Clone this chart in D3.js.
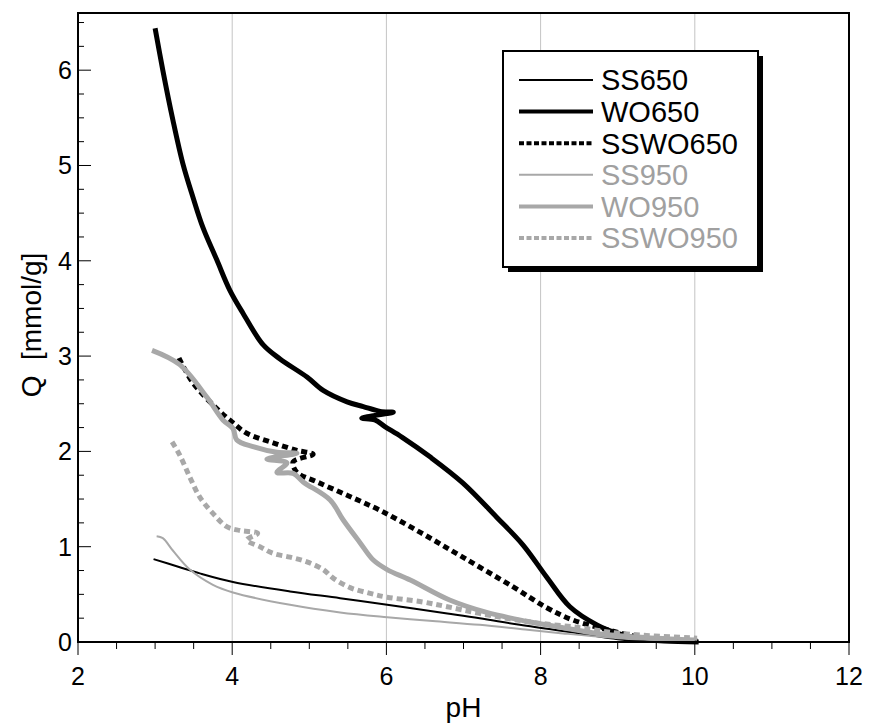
<!DOCTYPE html>
<html>
<head>
<meta charset="utf-8">
<script src="https://cdn.jsdelivr.net/npm/d3@7"></script>
<style>
  body { margin: 0; background: #fff; }
  text { font-family: "Liberation Sans", Arial, sans-serif; }
</style>
</head>
<body>
<div id="chart"></div>
<script>
// data: [pH, Q mmol/g]
const ss650 = [[2.98,0.87],[3.3,0.79],[3.58,0.72],[4.01,0.63],[4.75,0.53],[5.4,0.46],[6.01,0.39],[6.79,0.30],[7.21,0.25],[7.73,0.18],[8.5,0.09],[9.0,0.03],[9.3,0.01],[10.05,0.0]]
const wo650 = [[3.0,6.44],[3.1,6.0],[3.23,5.48],[3.36,5.02],[3.49,4.67],[3.62,4.35],[3.8,4.01],[3.97,3.69],[4.14,3.45],[4.4,3.12],[4.62,2.97],[4.97,2.78],[5.18,2.64],[5.49,2.52],[5.7,2.47],[5.92,2.42],[6.09,2.41],[5.68,2.35],[5.85,2.33],[5.98,2.26],[6.2,2.15],[6.57,1.94],[6.99,1.67],[7.43,1.31],[7.77,1.02],[8.08,0.68],[8.38,0.37],[8.73,0.18],[9.0,0.09],[9.3,0.03],[9.6,0.01],[10.05,0.0]]
const sswo650 = [[3.31,2.98],[3.49,2.72],[3.8,2.45],[4.01,2.3],[4.19,2.19],[4.53,2.09],[4.84,2.01],[5.05,1.97],[4.79,1.89],[4.84,1.78],[5.1,1.68],[5.49,1.54],[5.92,1.38],[6.44,1.15],[6.99,0.89],[7.64,0.58],[8.08,0.36],[8.42,0.23],[8.86,0.13],[9.29,0.05],[9.7,0.02],[10.05,0.01]]
const ss950 = [[3.02,1.11],[3.1,1.09],[3.23,0.96],[3.45,0.76],[3.75,0.6],[4.01,0.52],[4.75,0.39],[5.4,0.31],[6.01,0.26],[6.6,0.22],[7.21,0.18],[7.8,0.13],[8.29,0.09],[9.0,0.04],[9.5,0.02],[10.0,0.0]]
const wo950 = [[2.96,3.06],[3.32,2.91],[3.67,2.57],[3.88,2.33],[4.01,2.24],[4.06,2.12],[4.27,2.05],[4.58,1.99],[4.84,1.98],[4.45,1.92],[4.71,1.88],[4.58,1.78],[4.79,1.77],[4.92,1.68],[5.27,1.49],[5.44,1.28],[5.66,1.04],[5.83,0.86],[6.01,0.76],[6.31,0.65],[6.82,0.44],[7.3,0.31],[7.8,0.22],[8.29,0.15],[8.73,0.09],[9.3,0.05],[10.0,0.02]]
const sswo950 = [[3.22,2.1],[3.32,1.96],[3.45,1.73],[3.58,1.52],[3.75,1.35],[3.93,1.21],[4.1,1.17],[4.33,1.14],[4.19,1.07],[4.36,1.0],[4.53,0.93],[4.75,0.89],[4.97,0.84],[5.18,0.76],[5.31,0.67],[5.53,0.57],[5.79,0.51],[6.01,0.47],[6.47,0.42],[6.79,0.37],[7.21,0.3],[7.86,0.21],[8.51,0.15],[9.03,0.09],[10.03,0.04]]

const names = ['SS650', 'WO650', 'SSWO650', 'SS950', 'WO950', 'SSWO950']
const xTicks = [2, 4, 6, 8, 10, 12]
const yTicks = [0, 1, 2, 3, 4, 5, 6]
const gridX = [4, 6, 8, 10]

const black = '#000', grey = '#a8a8a8'
const series = [
    { name: names[0], data: ss650, color: black, width: 2, dash: null },
    { name: names[1], data: wo650, color: black, width: 5, dash: null },
    { name: names[2], data: sswo650, color: black, width: 5, dash: '6,4' },
    { name: names[3], data: ss950, color: grey, width: 2, dash: null },
    { name: names[4], data: wo950, color: grey, width: 5, dash: null },
    { name: names[5], data: sswo950, color: grey, width: 5, dash: '6,4' }
]

const width = 870, height = 725
const m = { left: 78, right: 21, top: 13, bottom: 83 }
const svg = d3.select('#chart').append('svg')
    .attr('width', width).attr('height', height)

const x = d3.scaleLinear().domain([2, 12]).range([m.left, width - m.right])
const y = d3.scaleLinear().domain([0, 6.6]).range([height - m.bottom, m.top])

// vertical grid
svg.append('g').selectAll('line').data(gridX).enter().append('line')
    .attr('x1', d => x(d)).attr('x2', d => x(d))
    .attr('y1', y.range()[1]).attr('y2', y.range()[0])
    .attr('stroke', '#c4c4c4').attr('stroke-width', 1)

// curves
const line = d3.line()
    .x(d => x(d[0])).y(d => y(d[1]))
    .curve(d3.curveCatmullRom.alpha(0.5))

svg.append('g').selectAll('path').data(series).enter().append('path')
    .attr('d', d => line(d.data))
    .attr('fill', 'none')
    .attr('stroke', d => d.color)
    .attr('stroke-width', d => d.width)
    .attr('stroke-dasharray', d => d.dash)
    .attr('stroke-linejoin', 'round')

// frame
svg.append('rect')
    .attr('x', x(2)).attr('y', y(6.6))
    .attr('width', x(12) - x(2)).attr('height', y(0) - y(6.6))
    .attr('fill', 'none').attr('stroke', '#000').attr('stroke-width', 2)

// x axis: ticks point down
const xAxis = svg.append('g').attr('transform', 'translate(0,' + y(0) + ')')
xAxis.selectAll('.minor').data(d3.range(2, 12.01, 0.5)).enter().append('line')
    .attr('x1', d => x(d)).attr('x2', d => x(d))
    .attr('y1', 0).attr('y2', d => d % 2 == 0 ? 13 : 7)
    .attr('stroke', '#000').attr('stroke-width', 1)
xAxis.selectAll('text').data(xTicks).enter().append('text')
    .attr('x', d => x(d)).attr('y', 43)
    .attr('text-anchor', 'middle')
    .style('font-size', '25px')
    .text(d => d)

// y axis: ticks point inward
const yAxis = svg.append('g').attr('transform', 'translate(' + x(2) + ',0)')
yAxis.selectAll('.minor').data(d3.range(0, 6.51, 0.25)).enter().append('line')
    .attr('y1', d => y(d)).attr('y2', d => y(d))
    .attr('x1', 0).attr('x2', d => d % 1 == 0 ? 13 : 6)
    .attr('stroke', '#000').attr('stroke-width', 1)
yAxis.selectAll('text').data(yTicks).enter().append('text')
    .attr('x', -6).attr('y', d => y(d))
    .attr('dy', '0.36em')
    .attr('text-anchor', 'end')
    .style('font-size', '25px')
    .text(d => d)

// axis titles
svg.append('text')
    .attr('x', x(7)).attr('y', 717)
    .attr('text-anchor', 'middle')
    .style('font-size', '28px')
    .text('pH')
svg.append('text')
    .attr('transform', 'translate(41,' + 325 + ') rotate(-90)')
    .attr('text-anchor', 'middle')
    .style('font-size', '28px')
    .style('white-space', 'pre')
    .text('Q  [mmol/g]')

// legend
const lg = svg.append('g').attr('transform', 'translate(503,51)')
lg.append('rect').attr('x', 5).attr('y', 5).attr('width', 255).attr('height', 216).attr('fill', '#000')
lg.append('rect').attr('width', 255).attr('height', 216)
    .attr('fill', '#fff').attr('stroke', '#000').attr('stroke-width', 2)
const row = lg.selectAll('.row').data(series).enter().append('g')
    .attr('transform', (d, i) => 'translate(0,' + (29 + i * 31.6) + ')')
row.append('line')
    .attr('x1', 16).attr('x2', 90)
    .attr('stroke', d => d.color)
    .attr('stroke-width', d => d.width == 5 ? 4 : 2)
    .attr('stroke-dasharray', d => d.dash ? '5,2.5' : null)
row.append('text')
    .attr('x', 98).attr('dy', '0.36em')
    .style('font-size', '29px')
    .attr('fill', d => d.color == black ? '#000' : '#a0a0a0')
    .text(d => d.name)
</script>
</body>
</html>
